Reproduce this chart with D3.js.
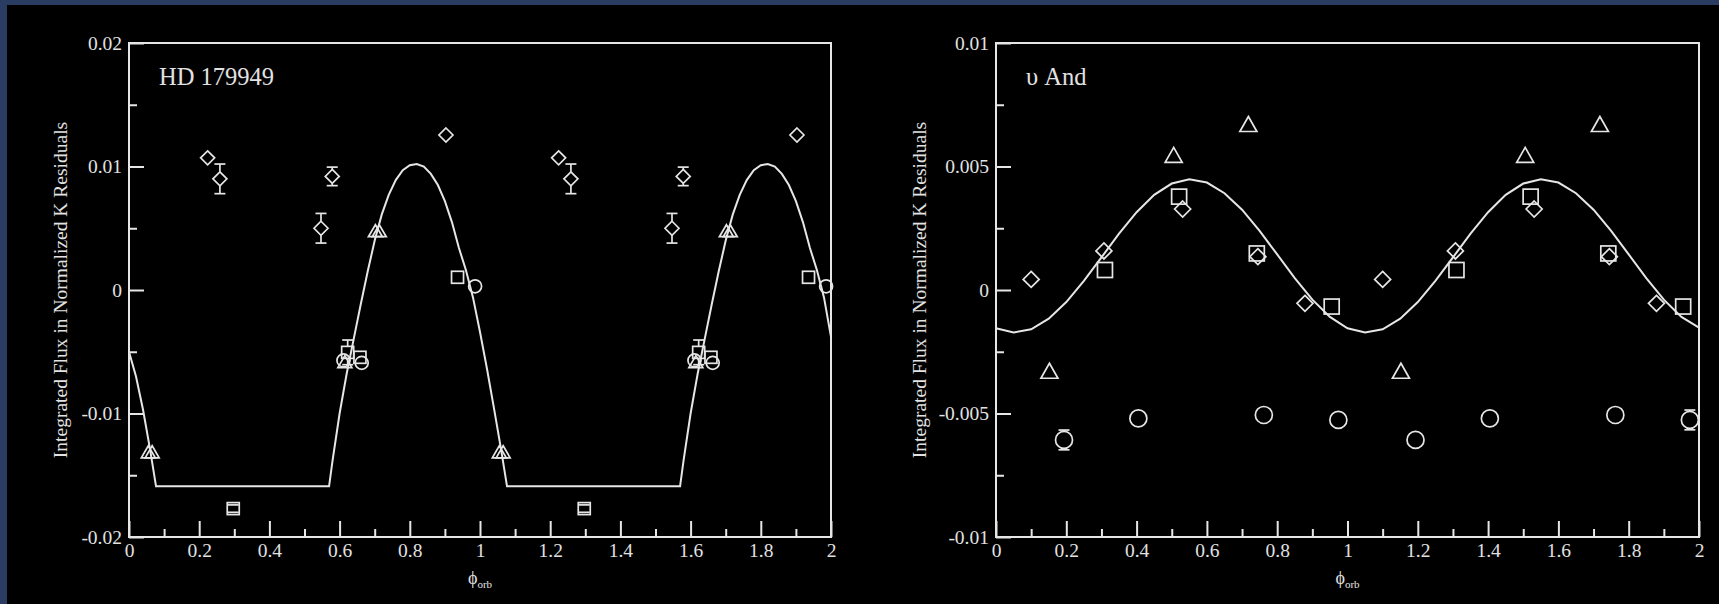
<!DOCTYPE html>
<html>
<head>
<meta charset="utf-8">
<script src="https://cdn.jsdelivr.net/npm/d3@7"></script>
<style>
  html, body { margin: 0; padding: 0; background: #000; }
  svg { display: block; }
  text { font-family: "Liberation Serif", "Times New Roman", serif; fill: #e2e2e2; }
</style>
</head>
<body>
<svg id="chart" width="1719" height="604"></svg>
<script>
// ---------------- HD 179949 ----------------
const hdDiamondPhase = [0.224, 0.259, 0.547, 0.579, 0.903, 1.224, 1.259, 1.547, 1.579, 1.903];
const hdDiamondValue = [0.0107, 0.0090, 0.0050, 0.0092, 0.01255, 0.0107, 0.0090, 0.0050, 0.0092, 0.01255];
const hdDiamondError = [0, 0.0012, 0.0012, 0.00075, 0, 0, 0.0012, 0.0012, 0.00075, 0];

const hdSquarePhase = [0.297, 0.623, 0.658, 0.936, 1.297, 1.623, 1.658, 1.936];
const hdSquareValue = [-0.0177, -0.00505, -0.00545, 0.00103, -0.0177, -0.00505, -0.00545, 0.00103];
const hdSquareError = [0.0003, 0.0010, 0, 0, 0.0003, 0.0010, 0, 0];

const hdCirclePhase = [0.611, 0.663, 0.986, 1.611, 1.663, 1.986];
const hdCircleValue = [-0.0057, -0.0059, 0.0003, -0.0057, -0.0059, 0.0003];

const hdTrianglePhase = [0.055, 0.066, 0.615, 0.702, 0.713, 1.055, 1.066, 1.615, 1.702, 1.713];
const hdTriangleValue = [-0.0131, -0.0131, -0.0058, 0.0048, 0.0048, -0.0131, -0.0131, -0.0058, 0.0048, 0.0048];

// model light curve (flat floor between the two bumps)
const hdModelPhase = [0, 0.02, 0.04, 0.06, 0.077, 0.570, 0.58, 0.60, 0.62, 0.64, 0.66, 0.68, 0.70, 0.72, 0.74, 0.76, 0.78, 0.80, 0.82, 0.84, 0.86, 0.88, 0.90, 0.92, 0.94, 0.96, 0.98,
                      1.00, 1.02, 1.04, 1.06, 1.077, 1.570, 1.58, 1.60, 1.62, 1.64, 1.66, 1.68, 1.70, 1.72, 1.74, 1.76, 1.78, 1.80, 1.82, 1.84, 1.86, 1.88, 1.90, 1.92, 1.94, 1.96, 1.98, 2.00];
const hdModelValue = [-0.0050, -0.0070, -0.0097, -0.0129, -0.0159, -0.0159, -0.0138, -0.0100, -0.0068, -0.0040, -0.0012, 0.0015, 0.0040, 0.0061, 0.0077, 0.0089, 0.0097, 0.0101, 0.0102, 0.0100, 0.0094, 0.0085, 0.0072, 0.0055, 0.0034, 0.0016, -0.0006,
                      -0.0034, -0.0064, -0.0096, -0.0129, -0.0159, -0.0159, -0.0138, -0.0100, -0.0068, -0.0040, -0.0012, 0.0015, 0.0040, 0.0061, 0.0077, 0.0089, 0.0097, 0.0101, 0.0102, 0.0100, 0.0094, 0.0085, 0.0072, 0.0055, 0.0034, 0.0016, -0.0006, -0.0038];

const hdYTicks = [-0.02, -0.01, 0, 0.01, 0.02];
const hdYTickLabels = ["-0.02", "-0.01", "0", "0.01", "0.02"];
const hdYMinor = [-0.015, -0.005, 0.005, 0.015];

// ---------------- upsilon And ----------------
const upsDiamondPhase = [0.100, 0.307, 0.531, 0.745, 0.879, 1.100, 1.307, 1.531, 1.745, 1.879];
const upsDiamondValue = [0.00043, 0.00158, 0.00328, 0.00135, -0.00054, 0.00043, 0.00158, 0.00328, 0.00135, -0.00054];

const upsSquarePhase = [0.310, 0.521, 0.742, 0.955, 1.310, 1.521, 1.742, 1.955];
const upsSquareValue = [0.00081, 0.00378, 0.00148, -0.00067, 0.00081, 0.00378, 0.00148, -0.00067];

const upsCirclePhase = [0.1935, 0.405, 0.762, 0.974, 1.1935, 1.405, 1.762, 1.974];
const upsCircleValue = [-0.00607, -0.0052, -0.00506, -0.00526, -0.00607, -0.0052, -0.00506, -0.00526];
const upsCircleError = [0.0004, 0, 0, 0, 0, 0, 0, 0.0004];

const upsTrianglePhase = [0.152, 0.5055, 0.718, 1.152, 1.5055, 1.718];
const upsTriangleValue = [-0.00327, 0.00547, 0.00672, -0.00327, 0.00547, 0.00672];

// sinusoidal model
const upsModelPhase = [0, 0.05, 0.10, 0.15, 0.20, 0.25, 0.30, 0.35, 0.40, 0.45, 0.50, 0.55, 0.60, 0.65, 0.70, 0.75, 0.80, 0.85, 0.90, 0.95,
                       1.00, 1.05, 1.10, 1.15, 1.20, 1.25, 1.30, 1.35, 1.40, 1.45, 1.50, 1.55, 1.60, 1.65, 1.70, 1.75, 1.80, 1.85, 1.90, 1.95, 2.00];
const upsModelValue = [-0.00155, -0.00172, -0.00159, -0.00116, -0.00049, 0.00037, 0.00132, 0.00228, 0.00315, 0.00385, 0.00431, 0.00448, 0.00435, 0.00392, 0.00325, 0.00239, 0.00144, 0.00048, -0.00039, -0.00109,
                       -0.00155, -0.00172, -0.00159, -0.00116, -0.00049, 0.00037, 0.00132, 0.00228, 0.00315, 0.00385, 0.00431, 0.00448, 0.00435, 0.00392, 0.00325, 0.00239, 0.00144, 0.00048, -0.00039, -0.00109, -0.00152];

const upsYTicks = [-0.01, -0.005, 0, 0.005, 0.01];
const upsYTickLabels = ["-0.01", "-0.005", "0", "0.005", "0.01"];
const upsYMinor = [-0.0075, -0.0025, 0.0025, 0.0075];

// ---------------- shared ----------------
const xTicks = [0, 0.2, 0.4, 0.6, 0.8, 1, 1.2, 1.4, 1.6, 1.8, 2];
const xTickLabels = ["0", "0.2", "0.4", "0.6", "0.8", "1", "1.2", "1.4", "1.6", "1.8", "2"];
const xMinor = [0.1, 0.3, 0.5, 0.7, 0.9, 1.1, 1.3, 1.5, 1.7, 1.9];
const yTitle = "Integrated Flux in Normalized K Residuals";

const zip = (xs, ys, es) => xs.map((x, i) => ({ x, y: ys[i], e: es ? es[i] : 0 }));

const panels = [
  {
    box: { left: 129, right: 831, top: 43, bottom: 537 },
    yDomain: [-0.02, 0.02], yTicks: hdYTicks, yLabels: hdYTickLabels, yMinor: hdYMinor,
    titleX: 63, name: "HD 179949",
    size: { diamond: 7, square: 12, circle: 6.5, triW: 14, triH: 12 },
    diamonds: zip(hdDiamondPhase, hdDiamondValue, hdDiamondError),
    squares: zip(hdSquarePhase, hdSquareValue, hdSquareError),
    circles: zip(hdCirclePhase, hdCircleValue),
    triangles: zip(hdTrianglePhase, hdTriangleValue),
    model: zip(hdModelPhase, hdModelValue)
  },
  {
    box: { left: 996, right: 1699, top: 43, bottom: 537 },
    yDomain: [-0.01, 0.01], yTicks: upsYTicks, yLabels: upsYTickLabels, yMinor: upsYMinor,
    titleX: 922, name: "\u03C5 And",
    size: { diamond: 8, square: 15, circle: 8.5, triW: 17, triH: 15 },
    diamonds: zip(upsDiamondPhase, upsDiamondValue),
    squares: zip(upsSquarePhase, upsSquareValue),
    circles: zip(upsCirclePhase, upsCircleValue, upsCircleError),
    triangles: zip(upsTrianglePhase, upsTriangleValue),
    model: zip(upsModelPhase, upsModelValue)
  }
];

const W = 1719, H = 604;
const LINE = "#e6e6e6";
const svg = d3.select("#chart");

// navy surround with the black figure canvas
svg.append("rect").attr("width", W).attr("height", H).attr("fill", "#2b3c62");
svg.append("rect").attr("x", 7).attr("y", 5).attr("width", W - 7).attr("height", H - 5).attr("fill", "#000");

panels.forEach(p => {
  const b = p.box;
  const x = d3.scaleLinear().domain([0, 2]).range([b.left, b.right]);
  const y = d3.scaleLinear().domain(p.yDomain).range([b.bottom, b.top]);
  const g = svg.append("g");

  // minor and major ticks, pointing into the plot
  const xMinorAxis = d3.axisBottom(x).tickValues(xMinor).tickSize(-8).tickFormat("");
  const xMajorAxis = d3.axisBottom(x).tickValues(xTicks).tickSize(-16).tickPadding(6)
    .tickFormat((d, i) => xTickLabels[i]);
  const yMinorAxis = d3.axisLeft(y).tickValues(p.yMinor).tickSize(-8).tickFormat("");
  const yMajorAxis = d3.axisLeft(y).tickValues(p.yTicks).tickSize(-15).tickPadding(7)
    .tickFormat((d, i) => p.yLabels[i]);

  [[xMinorAxis, "x"], [xMajorAxis, "x"], [yMinorAxis, "y"], [yMajorAxis, "y"]].forEach(([ax, dir]) => {
    const a = g.append("g")
      .attr("transform", dir === "x" ? `translate(0,${b.bottom})` : `translate(${b.left},0)`)
      .call(ax);
    a.select(".domain").remove();
    a.selectAll("line").attr("stroke", LINE).attr("stroke-width", 2);
    a.selectAll("text").attr("font-size", 19.5).attr("fill", "#e2e2e2")
      .attr("font-family", "Liberation Serif, serif");
  });

  // frame
  g.append("rect")
    .attr("x", b.left).attr("y", b.top)
    .attr("width", b.right - b.left).attr("height", b.bottom - b.top)
    .attr("fill", "none").attr("stroke", LINE).attr("stroke-width", 2);

  // model curve
  g.append("path")
    .datum(p.model)
    .attr("d", d3.line().x(d => x(d.x)).y(d => y(d.y)).curve(d3.curveLinear))
    .attr("fill", "none").attr("stroke", LINE).attr("stroke-width", 2);

  const s = p.size;
  const mark = g.append("g").attr("fill", "none").attr("stroke", LINE).attr("stroke-width", 1.7);

  // error bars drawn from the symbol edge out to a capped end
  function errorBars(data, half) {
    data.filter(d => d.e > 0).forEach(d => {
      const cx = x(d.x), cy = y(d.y);
      const up = y(d.y + d.e), dn = y(d.y - d.e);
      const cap = 5.5;
      if (cy - up > half) mark.append("line").attr("x1", cx).attr("x2", cx).attr("y1", cy - half).attr("y2", up);
      if (dn - cy > half) mark.append("line").attr("x1", cx).attr("x2", cx).attr("y1", cy + half).attr("y2", dn);
      mark.append("line").attr("x1", cx - cap).attr("x2", cx + cap).attr("y1", up).attr("y2", up);
      mark.append("line").attr("x1", cx - cap).attr("x2", cx + cap).attr("y1", dn).attr("y2", dn);
    });
  }

  mark.selectAll(null).data(p.diamonds).join("path")
    .attr("d", d => {
      const cx = x(d.x), cy = y(d.y), r = s.diamond;
      return `M${cx},${cy - r}L${cx + r},${cy}L${cx},${cy + r}L${cx - r},${cy}Z`;
    });
  errorBars(p.diamonds, s.diamond);

  mark.selectAll(null).data(p.squares).join("rect")
    .attr("x", d => x(d.x) - s.square / 2).attr("y", d => y(d.y) - s.square / 2)
    .attr("width", s.square).attr("height", s.square);
  errorBars(p.squares, s.square / 2);

  mark.selectAll(null).data(p.circles).join("circle")
    .attr("cx", d => x(d.x)).attr("cy", d => y(d.y)).attr("r", s.circle);
  errorBars(p.circles, s.circle);

  mark.selectAll(null).data(p.triangles).join("path")
    .attr("d", d => {
      const cx = x(d.x), cy = y(d.y), w = s.triW / 2, h = s.triH / 2;
      return `M${cx},${cy - h}L${cx + w},${cy + h}L${cx - w},${cy + h}Z`;
    });

  // star name
  g.append("text")
    .attr("x", b.left + 30).attr("y", 85)
    .attr("font-size", 24.5)
    .text(p.name);

  // axis titles
  g.append("text")
    .attr("transform", `translate(${p.titleX},${(b.top + b.bottom) / 2}) rotate(-90)`)
    .attr("text-anchor", "middle").attr("dominant-baseline", "middle")
    .attr("font-size", 19.5)
    .text(yTitle);

  const xt = g.append("text")
    .attr("x", (b.left + b.right) / 2).attr("y", 584)
    .attr("text-anchor", "middle")
    .attr("font-size", 18);
  xt.append("tspan").text("\u03D5");
  xt.append("tspan").attr("font-size", 11).attr("dy", 4).text("orb");
});
</script>
</body>
</html>
